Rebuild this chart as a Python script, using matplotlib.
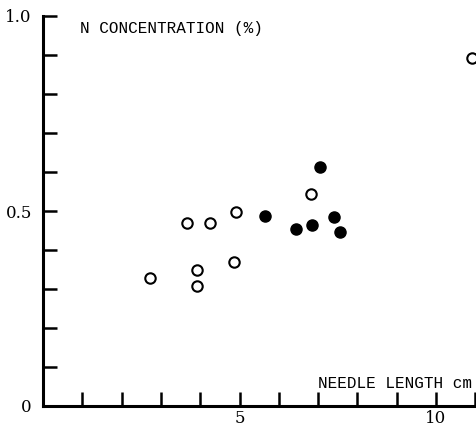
import numpy as np
import matplotlib
matplotlib.use("Agg")
import matplotlib.pyplot as plt

# needle length (cm) vs N concentration (%)
open_x = [2.72, 3.66, 4.25, 4.91, 4.86, 3.92, 3.92, 6.82, 10.92]
open_y = [0.328, 0.469, 0.469, 0.497, 0.369, 0.349, 0.308, 0.544, 0.892]
fill_x = [5.65, 6.44, 6.84, 7.40, 7.56, 7.05]
fill_y = [0.487, 0.454, 0.464, 0.485, 0.446, 0.613]

y_ticks = np.round(np.arange(0, 1.01, 0.1), 1)
y_labels = {0.0: '0', 0.5: '0.5', 1.0: '1.0'}
x_ticks = np.arange(1, 12)
x_labels = {5: '5', 10: '10'}

W, H = 476, 428
fig = plt.figure(figsize=(W / 100, H / 100), dpi=100)
ax = fig.add_axes([43 / W, (H - 406) / H, 1 - 43 / W, (406 - 16) / H])

ax.plot(open_x, open_y, 'o', mfc='white', mec='black', ms=7.5, mew=1.5,
        clip_on=False, zorder=3)
ax.plot(fill_x, fill_y, 'o', mfc='black', mec='black', ms=8, mew=1,
        clip_on=False, zorder=3)

ax.set_xlim(0, (W - 43) / 39.3)
ax.set_ylim(0, 1.0)
for s in ['top', 'right']:
    ax.spines[s].set_visible(False)
for s in ['left', 'bottom']:
    ax.spines[s].set_linewidth(2.2)

ax.set_yticks(y_ticks)
ax.set_yticklabels([y_labels.get(v, '') for v in y_ticks])
ax.set_xticks(x_ticks)
ax.set_xticklabels([x_labels.get(v, '') for v in x_ticks])
ax.tick_params(direction='in', length=10, width=1.8, pad=8, labelsize=12)
ax.tick_params(axis='x', pad=3)
for lab in ax.get_xticklabels() + ax.get_yticklabels():
    lab.set_fontfamily('DejaVu Serif')

fig.text(80 / W, 1 - 28 / H, 'N CONCENTRATION (%)', family='Liberation Mono',
         fontsize=11.5, va='center', ha='left')
fig.text(318 / W, 1 - 383 / H, 'NEEDLE LENGTH cm', family='Liberation Mono',
         fontsize=11.5, va='center', ha='left')

fig.savefig('out.png', dpi=100)
